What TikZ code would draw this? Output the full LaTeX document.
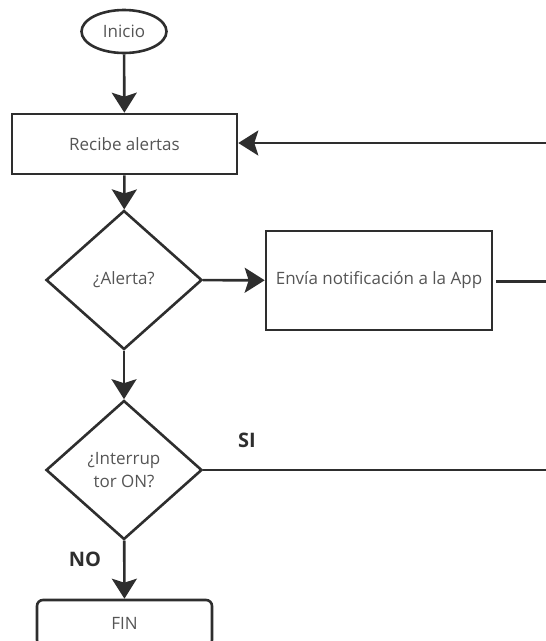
\documentclass[tikz,border=0pt]{standalone}
\usepackage{fontspec}
\setmainfont{Open Sans}
\usetikzlibrary{shapes.geometric,arrows.meta}
\definecolor{linec}{HTML}{2E2E2E}
\definecolor{textc}{HTML}{555555}
\tikzset{
  base/.style={draw=linec, line width=2.6pt, text=textc, font=\fontsize{17}{23}\selectfont, inner sep=0pt},
  boxnode/.style={base, rectangle},
  roundnode/.style={base, rectangle, rounded corners=6pt},
  ovalnode/.style={base, ellipse},
  decnode/.style={base, diamond, align=center},
  lbl/.style={text=linec, font=\fontsize{20}{24}\selectfont\bfseries, inner sep=0pt},
  conn/.style={draw=linec, line width=2.6pt},
  arr/.style={conn, -{Stealth[length=20pt,width=25pt,inset=4pt]}},
}
\begin{document}
\begin{tikzpicture}[x=1pt,y=-1pt]
\useasboundingbox (0,0) rectangle (546,641);
\clip (0,0) rectangle (546,641);
\node[ovalnode, minimum width=85pt, minimum height=43pt] (inicio) at (124,31.5) {Inicio};
\node[boxnode, minimum width=225pt, minimum height=60pt] (recibe) at (124.5,144) {Recibe alertas};
\node[decnode, minimum width=156pt, minimum height=139pt] (alerta) at (124,280) {¿Alerta?};
\node[boxnode, minimum width=226pt, minimum height=99pt] (envia) at (379,280.5) {Envía notificación a la App};
\node[decnode, minimum width=156pt, minimum height=139pt] (interr) at (124,470) {¿Interrup\\tor ON?};
\node[roundnode, minimum width=175pt, minimum height=46pt] (fin) at (124.5,623) {FIN};
\coordinate (r1) at (550,143);
\coordinate (r2) at (550,281.5);
\coordinate (r3) at (550,470);
\node[lbl] (si) at (247,440) {SI};
\node[lbl] (no) at (85,559) {NO};
\draw[arr] (inicio) -- (recibe);
\draw[arr] (recibe) -- (alerta);
\draw[arr] (alerta) -- (envia);
\draw[arr] (alerta) -- (interr);
\draw[arr] (interr) -- (fin);
\draw[arr] (r1) -- (recibe.east |- r1);
\draw[conn, shorten <=3pt] (envia.east |- r2) -- (r2);
\draw[conn] (interr.east) -- (r3);
\end{tikzpicture}
\end{document}
